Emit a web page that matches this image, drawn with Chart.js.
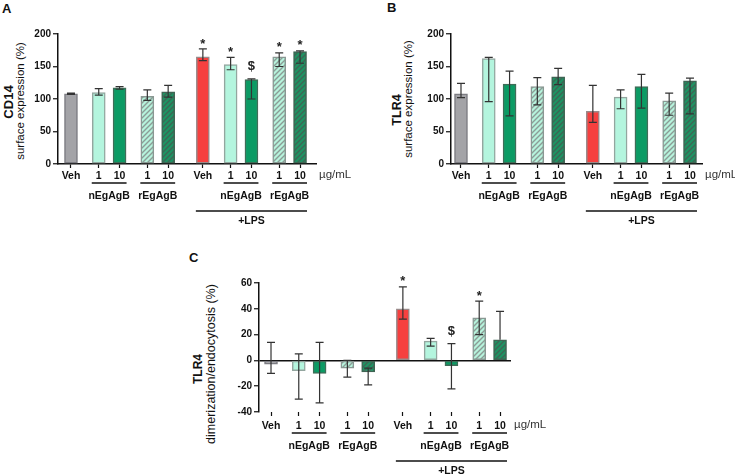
<!DOCTYPE html>
<html>
<head>
<meta charset="utf-8">
<script src="https://cdn.jsdelivr.net/npm/chart.js@4.4.1/dist/chart.umd.min.js"></script>
<style>
  html, body { margin: 0; padding: 0; background: #fff; }
  body { width: 735px; height: 474px; position: relative; overflow: hidden; font-family: "Liberation Sans", Arial, sans-serif; color: #111; }
  .panel { position: absolute; }
  .letter { position: absolute; font-weight: bold; font-size: 13px; line-height: 1; }
  .ytitle { position: absolute; white-space: nowrap; line-height: 1; transform: translate(-50%, -50%) rotate(-90deg); }
  .ytitle.main { font-weight: bold; }
</style>
</head>
<body>
<div class="letter" style="left:2px;top:2px">A</div>
<div class="letter" style="left:387px;top:1px">B</div>
<div class="letter" style="left:189px;top:251px">C</div>

<div class="ytitle main" style="left:8px;top:102px;font-size:13px">CD14</div>
<div class="ytitle" style="left:21px;top:101px;font-size:11.5px">surface expression (%)</div>
<div class="ytitle main" style="left:397px;top:110px;font-size:12.5px">TLR4</div>
<div class="ytitle" style="left:409px;top:99px;font-size:11.5px">surface expression (%)</div>
<div class="ytitle main" style="left:198px;top:369px;font-size:12px">TLR4</div>
<div class="ytitle" style="left:211px;top:364px;font-size:12.5px">dimerization/endocytosis (%)</div>

<div class="panel" style="left:0;top:0"><canvas id="cd14Chart" width="365" height="240"></canvas></div>
<div class="panel" style="left:360px;top:0"><canvas id="tlr4Chart" width="375" height="240"></canvas></div>
<div class="panel" style="left:180px;top:240px"><canvas id="dimerChart" width="380" height="234"></canvas></div>

<script>
// x categories, shared by the three panels
const doseLabels = ['Veh', '1', '10', '1', '10', 'Veh', '1', '10', '1', '10'];
const antigen = ['Veh', 'nEgAgB', 'nEgAgB', 'rEgAgB', 'rEgAgB', 'Veh', 'nEgAgB', 'nEgAgB', 'rEgAgB', 'rEgAgB'];
const withLps = [false, false, false, false, false, true, true, true, true, true];

// A: CD14 surface expression (%)
const cd14Mean = [108, 110, 117, 104, 111, 165, 153, 130, 165, 173];
const cd14Low  = [107, 106, 115, 98, 103, 159, 145, 100, 150, 155];
const cd14High = [109, 116, 119, 114, 121, 177, 164, 131, 171, 174];
const cd14Sig  = ['', '', '', '', '', '*', '*', '$', '*', '*'];

// B: TLR4 surface expression (%)
const tlr4Mean = [108, 162, 123, 119, 134, 81, 103, 119, 97, 128];
const tlr4Low  = [102, 96, 74, 91, 122, 64, 85, 86, 75, 77];
const tlr4High = [124, 164, 143, 133, 147, 121, 114, 138, 109, 132];
const tlr4Sig  = ['', '', '', '', '', '', '', '', '', ''];

// C: TLR4 dimerization/endocytosis (%)
const dimerMean = [-3, -8, -10, -6, -9, 40, 15, -4, 33, 16];
const dimerLow  = [-10, -30, -33, -13, -19, 32, 11, -22, 20, 16];
const dimerHigh = [14, 5, 14, 0, -6, 57, 17, 13, 46, 38];
const dimerSig  = ['', '', '', '', '', '*', '', '$', '*', ''];

const surfaceTicks = [0, 50, 100, 150, 200];
const dimerTicks = [-40, -20, 0, 20, 40, 60];

const FONT = '"Liberation Sans", Arial, sans-serif';
Chart.defaults.font.family = FONT;

// slot index of every bar: 3 inside a pair, 4 between groups, 5 before +LPS
const slots = [];
doseLabels.forEach((_, i) => {
  if (i === 0) { slots.push(0); return; }
  const step = withLps[i] !== withLps[i - 1] ? 5 : (antigen[i] !== antigen[i - 1] ? 4 : 3);
  slots.push(slots[i - 1] + step);
});

function hatch(bg, line) {
  const c = document.createElement('canvas');
  c.width = c.height = 5;
  const g = c.getContext('2d');
  g.fillStyle = bg;
  g.fillRect(0, 0, 5, 5);
  g.strokeStyle = line;
  g.lineWidth = 1.4;
  g.beginPath();
  g.moveTo(0, 5); g.lineTo(5, 0);
  g.moveTo(-1, 1); g.lineTo(1, -1);
  g.moveTo(4, 6); g.lineTo(6, 4);
  g.stroke();
  return g.createPattern(c, 'repeat');
}

const mintHatch = hatch('#b6f3dc', '#8c9c96');
const greenHatch = hatch('#1d9463', '#3d6654');

function barStyle(i) {
  if (antigen[i] === 'Veh') return withLps[i] ? ['#f6403f', '#9a8a8a'] : ['#a3a3a7', '#7c7c82'];
  const low = doseLabels[i] === '1';
  if (antigen[i] === 'nEgAgB') return low ? ['#b4f5de', '#93a69f'] : ['#0b9b64', '#3f6d58'];
  return low ? [mintHatch, '#8a9893'] : [greenHatch, '#3f6453'];
}

function makePanel(id, cfg) {
  const canvas = document.getElementById(id);
  const W = canvas.width, H = canvas.height;
  const a = cfg.area;
  const zero = cfg.zeroLine;

  const annotations = {
    id: 'annotations',
    afterDatasetsDraw(chart) {
      const { ctx } = chart;
      const y = chart.scales.y;
      const bars = chart.getDatasetMeta(0).data;
      ctx.save();
      ctx.strokeStyle = '#333';
      ctx.lineWidth = 1.2;
      bars.forEach((bar, i) => {
        const yl = y.getPixelForValue(cfg.low[i]);
        const yh = y.getPixelForValue(cfg.high[i]);
        ctx.beginPath();
        ctx.moveTo(bar.x, yl); ctx.lineTo(bar.x, yh);
        ctx.moveTo(bar.x - 4, yh); ctx.lineTo(bar.x + 4, yh);
        if (cfg.low[i] !== cfg.mean[i]) { ctx.moveTo(bar.x - 4, yl); ctx.lineTo(bar.x + 4, yl); }
        ctx.stroke();
      });
      ctx.fillStyle = '#222';
      ctx.font = `bold 13px ${FONT}`;
      ctx.textAlign = 'center';
      ctx.textBaseline = 'middle';
      bars.forEach((bar, i) => {
        const mark = cfg.sig[i];
        if (!mark) return;
        const top = Math.min(y.getPixelForValue(cfg.high[i]), y.getPixelForValue(cfg.mean[i]));
        ctx.fillText(mark, bar.x, top - (mark === '$' ? 12 : 5));
      });
      ctx.restore();
    },
    afterDraw(chart) {
      const { ctx, chartArea } = chart;
      const bars = chart.getDatasetMeta(0).data;
      const base = chartArea.bottom + cfg.drop;
      ctx.save();
      ctx.strokeStyle = '#111';
      ctx.lineWidth = 1.3;
      ctx.textBaseline = 'middle';

      ctx.font = `11.5px ${FONT}`;
      ctx.textAlign = 'left';
      ctx.fillStyle = '#333';
      ctx.fillText('µg/mL', chartArea.right + 3, base + 11);

      ctx.fillStyle = '#111';
      ctx.font = `bold 10.5px ${FONT}`;
      ctx.textAlign = 'center';
      const bracket = (from, to, yLine, gap, label) => {
        const x0 = bars[from].x - 7, x1 = bars[to].x + 7;
        ctx.beginPath();
        ctx.moveTo(x0, yLine); ctx.lineTo(x1, yLine);
        ctx.stroke();
        ctx.fillText(label, (x0 + x1) / 2, yLine + gap);
      };
      let start = 0;
      for (let i = 1; i <= antigen.length; i++) {
        if (i === antigen.length || antigen[i] !== antigen[start] || withLps[i] !== withLps[start]) {
          if (antigen[start] !== 'Veh') bracket(start, i - 1, base + 19, 13, antigen[start]);
          start = i;
        }
      }
      const lpsFirst = withLps.indexOf(true);
      const lpsLast = withLps.lastIndexOf(true);
      bracket(lpsFirst, lpsLast, base + 47, 10, '+LPS');
      ctx.restore();
    }
  };

  return new Chart(canvas, {
    type: 'bar',
    data: {
      datasets: [{
        data: cfg.mean.map((v, i) => ({ x: slots[i], y: v })),
        backgroundColor: cfg.mean.map((_, i) => barStyle(i)[0]),
        borderColor: cfg.mean.map((_, i) => barStyle(i)[1]),
        borderWidth: 1.5,
        borderSkipped: false,
        barThickness: 13
      }]
    },
    options: {
      responsive: false,
      animation: false,
      layout: { padding: { left: 0, top: a.top, right: W - a.right, bottom: 0 } },
      plugins: { legend: { display: false }, tooltip: { enabled: false } },
      scales: {
        x: {
          type: 'linear',
          min: cfg.xMin,
          max: cfg.xMax,
          offset: false,
          afterBuildTicks: s => { s.ticks = slots.map(v => ({ value: v })); },
          afterFit: s => { s.height = H - a.bottom; },
          ticks: {
            callback: (v, i) => doseLabels[i],
            autoSkip: false,
            maxRotation: 0,
            padding: 1.5 + cfg.drop,
            color: '#111',
            font: { size: 10.5, weight: 'bold' }
          },
          grid: { offset: false, drawOnChartArea: false, tickLength: 4, tickColor: '#111', tickWidth: 1.2 },
          border: { display: !zero, color: '#111', width: 1.5 }
        },
        y: {
          min: cfg.yTicks[0],
          max: cfg.yTicks[cfg.yTicks.length - 1],
          afterFit: s => { s.width = a.left; },
          afterBuildTicks: s => { s.ticks = cfg.yTicks.map(v => ({ value: v })); },
          ticks: { padding: 2, color: '#111', font: { size: 10, weight: 'bold' } },
          grid: {
            drawOnChartArea: zero,
            color: c => (c.tick && c.tick.value === 0) ? '#111' : 'rgba(0,0,0,0)',
            lineWidth: 1.5,
            tickLength: 5,
            tickColor: '#111',
            tickWidth: 1.2
          },
          border: { color: '#111', width: 1.5 }
        }
      }
    },
    plugins: [annotations]
  });
}

makePanel('cd14Chart', {
  area: { left: 58, top: 34, right: 316, bottom: 164 },
  xMin: -1.87, xMax: 35.3, drop: 0, zeroLine: false,
  mean: cd14Mean, low: cd14Low, high: cd14High, sig: cd14Sig, yTicks: surfaceTicks
});

makePanel('tlr4Chart', {
  area: { left: 91, top: 34, right: 342, bottom: 164 },
  xMin: -1.44, xMax: 34.73, drop: 0, zeroLine: false,
  mean: tlr4Mean, low: tlr4Low, high: tlr4High, sig: tlr4Sig, yTicks: surfaceTicks
});

makePanel('dimerChart', {
  area: { left: 79, top: 43, right: 331, bottom: 172 },
  xMin: -1.73, xMax: 34.58, drop: 2, zeroLine: true,
  mean: dimerMean, low: dimerLow, high: dimerHigh, sig: dimerSig, yTicks: dimerTicks
});
</script>
</body>
</html>
